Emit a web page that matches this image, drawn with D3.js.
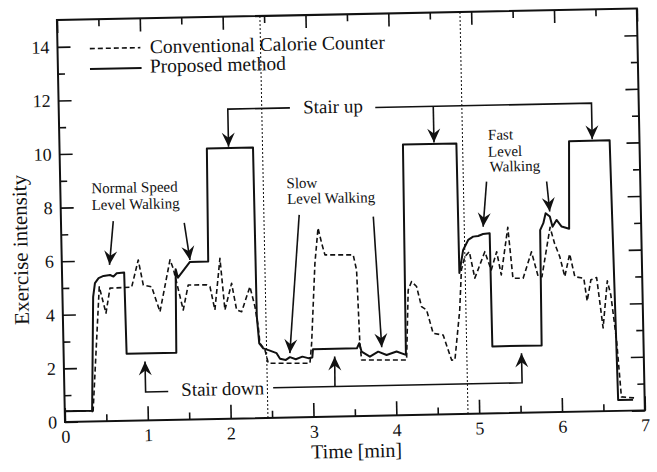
<!DOCTYPE html>
<html><head><meta charset="utf-8">
<script src="https://cdn.jsdelivr.net/npm/d3@7"></script>
<style>
body{margin:0;background:#fff}
</style>
</head><body>
<svg id="chart" width="657" height="472"></svg>
<script>
// ---------------- data ----------------
const xMajorTicks = [0, 1, 2, 3, 4, 5, 6, 7];
const xMinorTicks = [0.5, 1.5, 2.5, 3.5, 4.5, 5.5, 6.5];
const yMajorTicks = [0, 2, 4, 6, 8, 10, 12, 14];
const yMinorTicks = [1, 3, 5, 7, 9, 11, 13];
const seriesNames = ["Conventional Calorie Counter", "Proposed method"];
const xTitle = "Time [min]";
const yTitle = "Exercise intensity";
const phaseBoundaries = [2.45, 4.865];

const proposedTime = [0, 0.33, 0.37, 0.395, 0.44, 0.50, 0.58, 0.62, 0.66, 0.75, 0.76, 1.36, 1.372, 1.398, 1.546, 1.767,
  1.778, 2.335, 2.34, 2.363, 2.41, 2.49, 2.57, 2.61, 2.68, 2.73, 2.80, 2.88, 2.95, 3.0, 3.01, 3.54, 3.57, 3.596, 3.695,
  3.796, 3.897, 4.018, 4.13, 4.145, 4.79, 4.795, 4.846, 4.909, 4.97, 5.03, 5.09, 5.17, 5.175, 5.77, 5.78, 5.82, 5.85,
  5.90, 5.93, 5.98, 6.04, 6.13, 6.15, 6.64, 6.68, 6.86];
const proposedValue = [0.4, 0.4, 4.65, 5.16, 5.34, 5.42, 5.45, 5.39, 5.51, 5.53, 2.5, 2.5, 5.62, 5.3, 5.88, 5.88,
  10.1, 10.1, 3.8, 2.79, 2.6, 2.51, 2.41, 2.2, 2.15, 2.25, 2.17, 2.26, 2.2, 2.22, 2.53, 2.53, 2.72, 2.4, 2.21,
  2.39, 2.26, 2.38, 2.25, 10.1, 10.1, 5.26, 6.12, 6.49, 6.61, 6.63, 6.70, 6.72, 2.5, 2.5, 6.8, 7.06, 7.43,
  7.30, 6.92, 7.17, 6.92, 6.83, 10.1, 10.1, 0.41, 0.4];

const conventionalTime = [0, 0.33, 0.34, 0.446, 0.521, 0.575, 0.837, 0.923, 0.978, 1.078, 1.173, 1.306, 1.343, 1.454,
  1.52, 1.742, 1.782, 1.836, 1.909, 1.957, 2.044, 2.098, 2.158, 2.264, 2.32, 2.355, 2.371, 2.43, 2.467, 2.97, 2.995,
  3.054, 3.10, 3.14, 3.177, 3.518, 3.555, 3.577, 3.594, 4.137, 4.173, 4.216, 4.275, 4.33, 4.39, 4.464, 4.584, 4.68,
  4.72, 4.79, 4.82, 4.865, 4.92, 4.98, 5.107, 5.18, 5.25, 5.30, 5.39, 5.44, 5.563, 5.67, 5.745, 5.79, 5.9, 5.95,
  6.01, 6.066, 6.13, 6.187, 6.295, 6.33, 6.38, 6.45, 6.516, 6.578, 6.617, 6.675, 6.72, 6.88];
const conventionalValue = [0.4, 0.4, 0.3, 5.02, 4.03, 4.96, 4.98, 5.99, 5.05, 4.98, 4.04, 5.97, 5.65, 4.09,
  5.02, 5.01, 4.94, 4.07, 5.99, 4.06, 5.05, 4.05, 3.98, 4.91, 4.16, 3.41, 2.79, 2.54, 2.04, 2.01, 2.75,
  5.73, 7.05, 6.48, 6.04, 6.02, 5.45, 2.72, 2.09, 2.06, 4.67, 4.98, 4.79, 4.04, 3.91, 3.03, 2.96, 2.02,
  2.02, 3.88, 5.38, 5.87, 6.05, 5.06, 6.04, 5.35, 6.03, 5.16, 6.93, 5.03, 5.02, 6.0, 5.07, 5.06, 6.9, 6.30,
  5.80, 5.05, 5.89, 5.04, 4.97, 4.12, 4.91, 4.99, 3.11, 4.86, 4.33, 2.65, 0.52, 0.47];

const annotationTexts = ["Stair up", "Stair down", "Normal Speed", "Level Walking", "Slow", "Level Walking", "Fast", "Level", "Walking"];

// ---------------- drawing ----------------
const FONT = "'Liberation Serif', 'DejaVu Serif', serif";
const svg = d3.select("#chart");
svg.append("rect").attr("width", 657).attr("height", 472).attr("fill", "#fff");
const L = 65, T = 20, R = 645, B = 422;
const x = d3.scaleLinear().domain([0, 7]).range([L, R]);
const y = d3.scaleLinear().domain([0, 15]).range([B, T]);
const ink = "#111";

const defs = svg.append("defs");
defs.append("marker").attr("id", "ah").attr("viewBox", "-15 -8 16 16")
  .attr("refX", 0).attr("refY", 0).attr("markerWidth", 16).attr("markerHeight", 16)
  .attr("markerUnits", "userSpaceOnUse").attr("orient", "auto")
  .append("path").attr("d", "M0,0 L-14,-6.5 L-9,0 L-14,6.5 Z").attr("fill", ink);

const g = svg.append("g").attr("transform", `rotate(-1.15,${L},${B})`);

function styleAxis(sel, labels) {
  sel.attr("font-family", FONT);
  sel.select(".domain").remove();
  sel.selectAll(".tick line").attr("stroke", ink).attr("stroke-width", 1.6);
  if (labels) sel.selectAll(".tick text").attr("font-size", 18).attr("fill", ink);
  else sel.selectAll(".tick text").remove();
}
// bottom
g.append("g").attr("transform", `translate(0,${B})`)
  .call(d3.axisBottom(x).tickValues(xMajorTicks).tickSize(-14).tickPadding(8).tickFormat(d3.format("d")))
  .call(s => styleAxis(s, true));
g.append("g").attr("transform", `translate(0,${B})`)
  .call(d3.axisBottom(x).tickValues(xMinorTicks).tickSize(-7)).call(s => styleAxis(s, false));
// top
g.append("g").attr("transform", `translate(0,${T})`)
  .call(d3.axisTop(x).tickValues(xMajorTicks).tickSize(-13)).call(s => styleAxis(s, false));
g.append("g").attr("transform", `translate(0,${T})`)
  .call(d3.axisTop(x).tickValues(xMinorTicks).tickSize(-7)).call(s => styleAxis(s, false));
// left
g.append("g").attr("transform", `translate(${L},0)`)
  .call(d3.axisLeft(y).tickValues(yMajorTicks).tickSize(-13).tickPadding(8).tickFormat(d3.format("d")))
  .call(s => styleAxis(s, true));
g.append("g").attr("transform", `translate(${L},0)`)
  .call(d3.axisLeft(y).tickValues(yMinorTicks).tickSize(-7)).call(s => styleAxis(s, false));
// right
g.append("g").attr("transform", `translate(${R},0)`)
  .call(d3.axisRight(y).tickValues(yMajorTicks).tickSize(-13)).call(s => styleAxis(s, false));
g.append("g").attr("transform", `translate(${R},0)`)
  .call(d3.axisRight(y).tickValues(yMinorTicks).tickSize(-7)).call(s => styleAxis(s, false));

// frame
g.append("rect").attr("x", L).attr("y", T).attr("width", R - L).attr("height", B - T)
  .attr("fill", "none").attr("stroke", ink).attr("stroke-width", 2);

// phase boundaries
g.selectAll(".phase").data(phaseBoundaries).join("line").attr("class", "phase")
  .attr("x1", d => x(d)).attr("x2", d => x(d)).attr("y1", y(15)).attr("y2", y(0))
  .attr("stroke", ink).attr("stroke-width", 1).attr("stroke-dasharray", "2,2");

// series
const line = d3.line().x(d => x(d[0])).y(d => y(d[1]));
const conv = conventionalTime.map((t, i) => [t, conventionalValue[i]]);
const prop = proposedTime.map((t, i) => [t, proposedValue[i]]);
g.append("path").attr("d", line(conv)).attr("fill", "none").attr("stroke", ink)
  .attr("stroke-width", 1.6).attr("stroke-dasharray", "5,3").attr("stroke-linejoin", "round");
g.append("path").attr("d", line(prop)).attr("fill", "none").attr("stroke", ink)
  .attr("stroke-width", 2).attr("stroke-linejoin", "round");

// legend
g.append("path").attr("d", line([[0.39, 13.91], [1.0, 13.91]])).attr("stroke", ink)
  .attr("stroke-width", 1.6).attr("stroke-dasharray", "5,3");
g.append("path").attr("d", line([[0.387, 13.15], [1.01, 13.15]])).attr("stroke", ink).attr("stroke-width", 2);
g.append("text").attr("x", x(1.114)).attr("y", y(13.69)).attr("font-size", 19.5).text(seriesNames[0]);
g.append("text").attr("x", x(1.11)).attr("y", y(12.97)).attr("font-size", 19.5).text(seriesNames[1]);

// annotations
function arrow(pts, head = true) {
  const p = g.append("path").attr("d", line(pts)).attr("fill", "none").attr("stroke", ink).attr("stroke-width", 1.6);
  if (head) p.attr("marker-end", "url(#ah)");
}
function label(txt, t, v, size) {
  g.append("text").attr("x", x(t)).attr("y", y(v)).attr("font-size", size).text(txt);
}
// Stair up
arrow([[2.79, 11.55], [2.04, 11.55], [2.04, 10.15]]);
arrow([[3.82, 11.5], [6.43, 11.5], [6.43, 10.15]]);
arrow([[4.52, 11.5], [4.52, 10.15]]);
label(annotationTexts[0], 2.95, 11.33, 19);
// Stair down
arrow([[1.253, 1.06], [0.98, 1.06], [0.98, 2.2]]);
arrow([[2.52, 1.12], [5.525, 1.12], [5.525, 2.22]]);
arrow([[3.266, 1.12], [3.27, 2.24]]);
label(annotationTexts[1], 1.41, 0.88, 19);
// Normal speed
label(annotationTexts[2], 0.375, 8.51, 15);
label(annotationTexts[3], 0.373, 7.89, 15);
arrow([[0.631, 7.46], [0.575, 5.83]]);
arrow([[1.487, 7.34], [1.547, 5.95]]);
// Slow
label(annotationTexts[4], 2.73, 8.55, 15);
label(annotationTexts[5], 2.734, 7.97, 15);
arrow([[2.876, 7.55], [2.73, 2.40]]);
arrow([[3.77, 7.43], [3.84, 2.55]]);
// Fast
label(annotationTexts[6], 5.174, 10.21, 15);
label(annotationTexts[7], 5.17, 9.58, 15);
label(annotationTexts[8], 5.187, 9.02, 15);
arrow([[5.145, 8.65], [5.093, 6.97]]);
arrow([[5.87, 8.61], [5.9, 7.49]]);

// axis titles
g.append("text").attr("x", 356).attr("y", 463.5).attr("text-anchor", "middle").attr("font-size", 20).text(xTitle);
g.append("text").attr("transform", "translate(31,249) rotate(-90)").attr("text-anchor", "middle")
  .attr("font-size", 21).text(yTitle);

svg.selectAll("text").attr("font-family", FONT).attr("fill", ink);
</script>
</body></html>
